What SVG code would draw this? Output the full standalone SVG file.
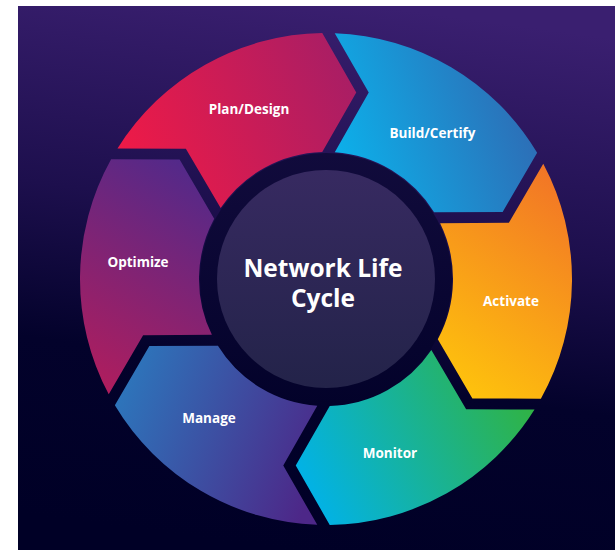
<svg xmlns="http://www.w3.org/2000/svg" width="615" height="550" viewBox="0 0 615 550">
<style>
.lbl{font-family:"Open Sans","Noto Sans","Liberation Sans",sans-serif;font-weight:700;font-size:13.5px;fill:#ffffff;text-anchor:middle}
.title{font-family:"Open Sans","Noto Sans","Liberation Sans",sans-serif;font-weight:700;font-size:24.5px;fill:#ffffff;text-anchor:middle}
</style>
<defs>
<linearGradient id="bg" x1="0.6" y1="0" x2="0.45" y2="1">
<stop offset="0" stop-color="#3a1f70"/>
<stop offset="0.4" stop-color="#1d0f4d"/>
<stop offset="0.68" stop-color="#03022b"/>
<stop offset="1" stop-color="#000026"/>
</linearGradient>
<linearGradient id="ring" x1="0" y1="0" x2="0" y2="1">
<stop offset="0" stop-color="#110b3c"/>
<stop offset="1" stop-color="#03022a"/>
</linearGradient>
<linearGradient id="disc" x1="0" y1="0" x2="0" y2="1">
<stop offset="0" stop-color="#372a61"/>
<stop offset="1" stop-color="#232349"/>
</linearGradient>
<path id="seg" d="M 334.75,33.16 A 246 246 0 0 1 537.14,152.77 L 502.64,211.95 L 434.06,212.28 A 127 127 0 0 0 334.75,152.30 L 368.75,92.5 Z"/>
<linearGradient id="gBuild" gradientUnits="userSpaceOnUse" x1="335" y1="150" x2="540" y2="80">
<stop offset="0" stop-color="#0cb0ea"/>
<stop offset="1" stop-color="#3166b0"/>
</linearGradient>
<linearGradient id="gActivate" gradientUnits="userSpaceOnUse" gradientTransform="rotate(-60 326 279)" x1="440" y1="390" x2="575" y2="190">
<stop offset="0" stop-color="#ffc60b"/>
<stop offset="1" stop-color="#f27626"/>
</linearGradient>
<linearGradient id="gMonitor" gradientUnits="userSpaceOnUse" gradientTransform="rotate(-120 326 279)" x1="305" y1="505" x2="525" y2="400">
<stop offset="0" stop-color="#00b2ec"/>
<stop offset="1" stop-color="#2fb347"/>
</linearGradient>
<linearGradient id="gManage" gradientUnits="userSpaceOnUse" gradientTransform="rotate(-180 326 279)" x1="120" y1="390" x2="320" y2="470">
<stop offset="0" stop-color="#2d75bb"/>
<stop offset="1" stop-color="#4d2788"/>
</linearGradient>
<linearGradient id="gOptimize" gradientUnits="userSpaceOnUse" gradientTransform="rotate(-240 326 279)" x1="90" y1="385" x2="220" y2="170">
<stop offset="0" stop-color="#b01d5d"/>
<stop offset="1" stop-color="#4e2a8c"/>
</linearGradient>
<linearGradient id="gPlan" gradientUnits="userSpaceOnUse" gradientTransform="rotate(-300 326 279)" x1="130" y1="170" x2="360" y2="70">
<stop offset="0" stop-color="#ee1a47"/>
<stop offset="1" stop-color="#a61e66"/>
</linearGradient>
</defs>
<rect x="18" y="6" width="597" height="544" fill="url(#bg)"/>
<g id="connectors"></g>
<g id="plan-design">
<use href="#seg" transform="rotate(300 326 279)" fill="url(#gPlan)"/>
<text class="lbl" x="249" y="114">Plan/Design</text>
</g>
<g id="build-certify">
<use href="#seg" fill="url(#gBuild)"/>
<text class="lbl" x="432.5" y="138">Build/Certify</text>
</g>
<g id="activate">
<use href="#seg" transform="rotate(60 326 279)" fill="url(#gActivate)"/>
<text class="lbl" x="511" y="306">Activate</text>
</g>
<g id="monitor">
<use href="#seg" transform="rotate(120 326 279)" fill="url(#gMonitor)"/>
<text class="lbl" x="390" y="458">Monitor</text>
</g>
<g id="manage">
<use href="#seg" transform="rotate(180 326 279)" fill="url(#gManage)"/>
<text class="lbl" x="209" y="423">Manage</text>
</g>
<g id="optimize">
<use href="#seg" transform="rotate(240 326 279)" fill="url(#gOptimize)"/>
<text class="lbl" x="138" y="267">Optimize</text>
</g>
<g id="center">
<circle cx="326" cy="279" r="126" fill="url(#ring)"/>
<circle cx="326" cy="279" r="109" fill="url(#disc)"/>
<text class="title" x="323" y="277">Network Life</text>
<text class="title" x="323" y="307">Cycle</text>
</g>
</svg>
